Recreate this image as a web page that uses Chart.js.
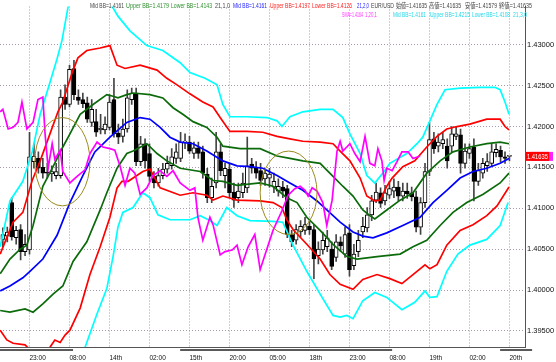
<!DOCTYPE html>
<html><head><meta charset="utf-8">
<script src="https://cdn.jsdelivr.net/npm/chart.js@4.4.1/dist/chart.umd.min.js"></script>
<style>html,body{margin:0;padding:0;background:#fff;}canvas{display:block;}</style>
</head><body>
<canvas id="c" width="556" height="362"></canvas>
<script>
// ---- bar data (EUR/USD), bar index 1..115 ----
const opens  = [1.4062,1.4066,1.4107,1.4064,1.4074,1.4047,1.4049,1.4157,1.4161,1.4150,1.4144,1.4142,1.4140,1.4140,1.4236,1.4227,1.4271,1.4236,1.4233,1.4229,1.4205,1.4206,1.4196,1.4196,1.4199,1.4233,1.4192,1.4188,1.4197,1.4233,1.4241,1.4157,1.4179,1.4167,1.4139,1.4131,1.4140,1.4148,1.4152,1.4161,1.4161,1.4181,1.4181,1.4167,1.4174,1.4169,1.4142,1.4113,1.4131,1.4169,1.4140,1.4148,1.4120,1.4113,1.4119,1.4125,1.4154,1.4149,1.4146,1.4136,1.4137,1.4126,1.4121,1.4126,1.4124,1.4068,1.4061,1.4071,1.4073,1.4078,1.4074,1.4042,1.4049,1.4053,1.4050,1.4040,1.4059,1.4044,1.4070,1.4030,1.4047,1.4071,1.4076,1.4092,1.4110,1.4119,1.4109,1.4116,1.4121,1.4126,1.4115,1.4121,1.4119,1.4114,1.4077,1.4107,1.4145,1.4185,1.4176,1.4179,1.4176,1.4176,1.4188,1.4190,1.4155,1.4167,1.4175,1.4133,1.4143,1.4152,1.4155,1.4168,1.4171,1.4163,1.41635];
const highs  = [1.4076,1.4077,1.4113,1.4078,1.4080,1.4068,1.4193,1.4179,1.4169,1.4161,1.4155,1.4152,1.4155,1.4245,1.4251,1.4275,1.4281,1.4245,1.4241,1.4236,1.4233,1.4221,1.4215,1.4212,1.4239,1.4259,1.4203,1.4209,1.4245,1.4247,1.4247,1.4188,1.4185,1.4179,1.4145,1.4149,1.4155,1.4164,1.4173,1.4179,1.4193,1.4191,1.4188,1.4181,1.4181,1.4176,1.4149,1.4137,1.4193,1.4179,1.4155,1.4155,1.4131,1.4131,1.4143,1.4187,1.4161,1.4157,1.4155,1.4149,1.4149,1.4143,1.4136,1.4133,1.4128,1.4073,1.4080,1.4085,1.4089,1.4085,1.4080,1.4059,1.4071,1.4073,1.4059,1.4068,1.4065,1.4077,1.4080,1.4056,1.4073,1.4089,1.4101,1.4116,1.4131,1.4125,1.4128,1.4133,1.4136,1.4133,1.4131,1.4131,1.4126,1.4121,1.4113,1.4155,1.4205,1.4193,1.4191,1.4193,1.4185,1.4200,1.4200,1.4197,1.4179,1.4179,1.4185,1.4155,1.4161,1.4167,1.4179,1.4179,1.4176,1.4169,1.41635];
const lows   = [1.4053,1.4059,1.4061,1.4056,1.4037,1.4042,1.4044,1.4149,1.4143,1.4137,1.4137,1.4133,1.4136,1.4137,1.4221,1.4224,1.4233,1.4227,1.4223,1.4205,1.4200,1.4188,1.4191,1.4191,1.4196,1.4187,1.4179,1.4181,1.4193,1.4227,1.4152,1.4152,1.4149,1.4133,1.4125,1.4127,1.4136,1.4143,1.4148,1.4155,1.4157,1.4173,1.4167,1.4161,1.4161,1.4137,1.4107,1.4107,1.4125,1.4140,1.4125,1.4113,1.4101,1.4107,1.4113,1.4119,1.4143,1.4137,1.4128,1.4128,1.4126,1.4119,1.4115,1.4113,1.4064,1.4053,1.4056,1.4065,1.4068,1.4068,1.4014,1.4032,1.4044,1.4047,1.4025,1.4035,1.4047,1.4040,1.4017,1.4025,1.4041,1.4064,1.4071,1.4085,1.4107,1.4101,1.4104,1.4112,1.4113,1.4109,1.4109,1.4112,1.4109,1.4071,1.4068,1.4101,1.4140,1.4167,1.4169,1.4173,1.4149,1.4169,1.4184,1.4143,1.4149,1.4161,1.4109,1.4128,1.4137,1.4145,1.4152,1.4163,1.4157,1.4155,1.41579];
const closes = [1.4068,1.4071,1.4065,1.4073,1.4047,1.4056,1.4163,1.4164,1.4149,1.4143,1.4143,1.4145,1.4145,1.4236,1.4227,1.4270,1.4239,1.4232,1.4228,1.4209,1.4221,1.4193,1.4198,1.4203,1.4230,1.4191,1.4187,1.4197,1.4235,1.4241,1.4157,1.4179,1.4158,1.4139,1.4131,1.4140,1.4148,1.4155,1.4163,1.4169,1.4181,1.4182,1.4170,1.4174,1.4167,1.4143,1.4113,1.4127,1.4169,1.4146,1.4149,1.4119,1.4110,1.4121,1.4131,1.4152,1.4149,1.4143,1.4134,1.4143,1.4142,1.4133,1.4127,1.4121,1.4068,1.4059,1.4074,1.4078,1.4080,1.4074,1.4038,1.4050,1.4061,1.4064,1.4029,1.4059,1.4054,1.4068,1.4025,1.4044,1.4061,1.4078,1.4092,1.4109,1.4120,1.4106,1.4119,1.4124,1.4126,1.4115,1.4121,1.4118,1.4114,1.4077,1.4107,1.4145,1.4184,1.4173,1.4181,1.4184,1.4158,1.4191,1.4191,1.4155,1.4170,1.4173,1.4133,1.4146,1.4155,1.4157,1.4169,1.4172,1.4163,1.4161,1.41635];

// ---- indicator lines, [bar index, price] ----
const bbMid = [[0.4,1.3999],[2.6,1.4005],[5.5,1.4015],[7.1,1.4023],[10.0,1.4038],[13.2,1.4067],[16.1,1.4107],[19.0,1.4140],[21.7,1.4169],[25.1,1.4187],[28.9,1.4205],[31.9,1.4211],[34.1,1.4209],[36.4,1.4199],[38.6,1.4187],[40.9,1.4181],[43.8,1.4179],[46.9,1.4170],[50.5,1.4158],[53.7,1.4152],[56.6,1.4151],[59.5,1.4149],[62.7,1.4140],[65.6,1.4131],[68.5,1.4122],[71.7,1.4109],[73.9,1.4098],[76.9,1.4083],[79.8,1.4071],[82.0,1.4066],[84.3,1.4064],[87.4,1.4070],[91.0,1.4079],[94.9,1.4089],[97.8,1.4107],[100.9,1.4122],[103.9,1.4137],[106.8,1.4145],[109.9,1.4149],[112.9,1.4155],[114.9,1.4161]];
const bbUp1 = [[0.4,1.4020],[2.6,1.4038],[4.9,1.4050],[6.4,1.4055],[7.8,1.4079],[10.0,1.4127],[12.3,1.4151],[14.5,1.4175],[16.1,1.4191],[18.4,1.4215],[21.3,1.4227],[24.4,1.4239],[25.8,1.4237],[26.9,1.4235],[28.9,1.4239],[30.3,1.4241],[34.1,1.4239],[37.0,1.4235],[39.3,1.4223],[41.5,1.4215],[43.8,1.4206],[46.9,1.4199],[49.2,1.4187],[50.5,1.4176],[54.4,1.4173],[58.9,1.4173],[62.7,1.4164],[65.6,1.4161],[68.5,1.4158],[72.4,1.4155],[75.3,1.4139],[77.5,1.4127],[79.8,1.4115],[82.0,1.4098],[83.6,1.4091],[84.7,1.4087],[87.4,1.4098],[90.4,1.4110],[93.3,1.4119],[96.4,1.4143],[99.4,1.4158],[102.3,1.4169],[106.1,1.4175],[109.9,1.4179],[112.9,1.4181],[114.9,1.4179]];
const bbLo1 = [[0.4,1.3975],[2.6,1.3973],[6.0,1.3977],[7.8,1.3973],[10.0,1.3983],[12.3,1.3995],[14.5,1.4005],[16.8,1.4035],[19.9,1.4059],[22.9,1.4098],[24.4,1.4119],[26.7,1.4149],[28.9,1.4167],[30.3,1.4170],[33.4,1.4179],[35.7,1.4167],[37.9,1.4158],[40.9,1.4149],[45.4,1.4145],[48.3,1.4134],[50.5,1.4133],[53.7,1.4128],[58.9,1.4131],[61.8,1.4127],[64.9,1.4113],[67.2,1.4107],[69.4,1.4089],[72.4,1.4073],[75.3,1.4056],[78.4,1.4041],[80.7,1.4038],[85.2,1.4041],[90.4,1.4044],[93.3,1.4053],[96.4,1.4061],[99.4,1.4079],[102.3,1.4095],[105.4,1.4107],[109.0,1.4117],[112.9,1.4131],[114.9,1.4143]];
const bbUp2 = [[0.4,1.4044],[1.5,1.4059],[3.3,1.4083],[5.5,1.4095],[7.6,1.4134],[9.4,1.4158],[11.6,1.4191],[13.4,1.4218],[14.5,1.4230],[16.6,1.4266],[17.9,1.4284],[19.9,1.4293],[22.9,1.4296],[25.1,1.4299],[26.7,1.4275],[28.5,1.4271],[31.9,1.4275],[35.7,1.4269],[37.9,1.4259],[40.2,1.4251],[43.1,1.4240],[46.0,1.4230],[48.3,1.4224],[49.9,1.4211],[52.1,1.4194],[55.9,1.4194],[59.5,1.4193],[62.7,1.4188],[65.6,1.4185],[68.5,1.4182],[72.4,1.4181],[75.3,1.4179],[76.9,1.4170],[79.1,1.4158],[81.4,1.4137],[82.9,1.4115],[84.7,1.4109],[85.9,1.4110],[87.4,1.4127],[88.6,1.4137],[91.0,1.4151],[93.7,1.4158],[96.4,1.4175],[98.7,1.4188],[100.9,1.4197],[103.2,1.4200],[106.1,1.4203],[109.9,1.4209],[112.9,1.4209],[114.0,1.4200],[114.9,1.4196]];
const bbLo2 = [[0.4,1.3951],[1.9,1.3939],[3.3,1.3935],[6.0,1.3933],[8.2,1.3921],[10.5,1.3925],[11.6,1.3930],[12.7,1.3939],[13.9,1.3936],[15.0,1.3945],[16.1,1.3951],[18.4,1.3978],[20.6,1.4019],[22.9,1.4053],[25.1,1.4089],[26.7,1.4125],[27.8,1.4133],[29.2,1.4133],[32.5,1.4145],[34.1,1.4148],[36.4,1.4125],[40.9,1.4116],[43.8,1.4119],[46.9,1.4116],[48.3,1.4110],[50.5,1.4115],[53.7,1.4110],[58.9,1.4109],[61.8,1.4107],[63.8,1.4101],[64.9,1.4086],[66.3,1.4074],[69.4,1.4056],[72.4,1.4038],[74.6,1.4019],[76.9,1.4007],[79.8,1.4001],[82.0,1.4013],[85.2,1.4019],[88.1,1.4014],[90.8,1.4008],[93.3,1.4019],[96.0,1.4031],[97.1,1.4026],[98.7,1.4031],[100.9,1.4055],[103.9,1.4073],[106.8,1.4080],[109.9,1.4091],[112.2,1.4103],[114.9,1.4126]];
const bbUp3 = [[0.4,1.4053],[2.6,1.4109],[5.5,1.4133],[7.6,1.4169],[9.4,1.4215],[11.6,1.4254],[13.2,1.4283],[14.3,1.4305],[15.7,1.4347],[17.2,1.4377],[20.6,1.4401],[24.0,1.4377],[25.6,1.4347],[26.9,1.4335],[29.6,1.4317],[33.4,1.4299],[37.0,1.4293],[40.9,1.4278],[43.1,1.4266],[46.5,1.4259],[49.2,1.4251],[50.5,1.4227],[52.1,1.4212],[55.9,1.4212],[60.4,1.4211],[62.7,1.4207],[63.8,1.4200],[65.6,1.4212],[68.5,1.4218],[72.4,1.4221],[75.3,1.4221],[77.5,1.4211],[79.1,1.4191],[81.4,1.4167],[82.9,1.4140],[84.7,1.4131],[86.5,1.4143],[88.1,1.4155],[91.9,1.4167],[94.2,1.4179],[95.5,1.4187],[97.1,1.4207],[98.7,1.4227],[100.5,1.4245],[103.9,1.4247],[108.4,1.4248],[111.7,1.4248],[112.9,1.4245],[114.0,1.4230],[114.9,1.4215]];
const bbLo3 = [[17.2,1.3891],[19.5,1.3930],[22.2,1.3971],[24.4,1.4002],[25.8,1.4041],[26.9,1.4077],[28.0,1.4095],[30.3,1.4101],[32.5,1.4119],[34.1,1.4113],[35.9,1.4092],[38.6,1.4086],[43.1,1.4086],[45.4,1.4091],[47.6,1.4085],[49.2,1.4079],[51.4,1.4101],[53.7,1.4091],[56.6,1.4085],[61.8,1.4084],[64.0,1.4083],[66.3,1.4055],[69.4,1.4023],[72.4,1.3995],[75.3,1.3969],[76.9,1.3967],[78.4,1.3969],[79.8,1.3965],[82.0,1.3987],[84.7,1.3997],[87.4,1.3991],[90.8,1.3976],[93.7,1.3985],[96.0,1.3999],[97.1,1.3991],[98.7,1.3992],[100.9,1.4023],[103.4,1.4044],[106.1,1.4055],[109.9,1.4062],[112.9,1.4079],[114.7,1.4107]];
const smaLine = [[0.4,1.4218],[1.0,1.4221],[2.2,1.4197],[3.3,1.4199],[4.4,1.4205],[5.3,1.4230],[6.4,1.4197],[7.8,1.4205],[8.9,1.4233],[10.0,1.4236],[10.5,1.4191],[11.2,1.4149],[12.1,1.4179],[12.7,1.4160],[13.9,1.4171],[14.5,1.4145],[16.1,1.4131],[17.7,1.4139],[19.5,1.4147],[20.6,1.4167],[22.2,1.4181],[23.5,1.4175],[25.1,1.4173],[26.2,1.4171],[27.4,1.4151],[28.5,1.4128],[29.6,1.4149],[30.7,1.4143],[31.9,1.4117],[33.4,1.4125],[34.8,1.4140],[36.4,1.4146],[37.9,1.4139],[39.3,1.4146],[40.9,1.4131],[43.1,1.4122],[44.2,1.4125],[44.9,1.4089],[46.0,1.4061],[47.6,1.4089],[48.3,1.4080],[49.9,1.4043],[51.0,1.4047],[52.6,1.4049],[53.7,1.4055],[54.8,1.4031],[56.2,1.4053],[57.7,1.4068],[58.9,1.4025],[60.4,1.4050],[61.8,1.4073],[63.8,1.4097],[65.2,1.4116],[66.7,1.4124],[67.9,1.4127],[69.0,1.4122],[69.7,1.4115],[70.6,1.4125],[71.7,1.4121],[73.0,1.4107],[73.9,1.4079],[75.1,1.4110],[76.2,1.4170],[76.9,1.4182],[77.5,1.4170],[78.4,1.4175],[79.1,1.4179],[80.2,1.4167],[81.4,1.4157],[82.5,1.4188],[83.6,1.4155],[84.7,1.4152],[85.4,1.4173],[86.3,1.4158],[86.8,1.4134],[87.4,1.4149],[88.6,1.4146],[89.7,1.4157],[90.8,1.4169],[92.2,1.4169],[93.3,1.4161],[94.9,1.4164]];

// ---- axis ticks ----
const xTickIdx = [7,16,25,34,43,52,61,70,79,88,97,106,115];
const xTickLabels = ["23:00","08:00","14th","02:00","15th","20:00","05:00","18th","23:00","08:00","19th","02:00","20th"];
const yTickValues = [1.395,1.400,1.405,1.410,1.415,1.420,1.425,1.430];

// ---- annotations ----
const ellipses = [{x:14.4,y:1.4157,rx:6.2,ry:0.0054},{x:65.3,y:1.4119,rx:6.4,ry:0.0051}];
const sepRanges = [[0.36,16.8],[40.9,88.6],[112.9,120.1]];
const headerRow1 = [["Mid BB=1.4161","#444",90,34],["Upper BB=1.4179","#2f8f2f",126,43],["Lower BB=1.4143","#2f8f2f",171,41],["21,1,0","#444",215,15],["Mid BB=1.4161","#2222ff",233,34],["Upper BB=1.4197","#ff2020",270,40],["Lower BB=1.4126","#ff2020",312,40],["21,2,0","#2222ff",357,12],["EUR/USD","#444",371,23],["始値=1.41635","#444",396,31],["高値=1.41635","#444",429,32],["安値=1.41579","#444",465,32],["終値=1.41635","#444",499,33]];
const headerRow2 = [["SMA=1.4164","#ff33ff",342,21],["1,20,1","#ff33ff",365,12],["Mid BB=1.4161","#22d8e8",393,33],["Upper BB=1.4215","#22d8e8",430,40],["Lower BB=1.4108","#22d8e8",472,38],["21,3,0","#22d8e8",513,14]];

const FONT = '"Liberation Sans Narrow","Liberation Sans","Noto Sans CJK JP",sans-serif';
const toPts = arr => arr.map(p => ({x: p[0], y: p[1]}));
const idx = opens.map((_, i) => i + 1);

const overlay = {
  id: 'overlay',
  afterDatasetsDraw(chart) {
    const {ctx, chartArea: a, scales: {x, y}} = chart;
    ctx.save();
    ctx.beginPath(); ctx.rect(a.left, a.top, a.right - a.left, a.bottom - a.top); ctx.clip();
    ctx.strokeStyle = '#9c8a1e'; ctx.lineWidth = 1;
    ellipses.forEach(e => {
      const cx = x.getPixelForValue(e.x), cy = y.getPixelForValue(e.y);
      const rx = Math.abs(x.getPixelForValue(e.x + e.rx) - cx);
      const ry = Math.abs(y.getPixelForValue(e.y + e.ry) - cy);
      ctx.beginPath(); ctx.ellipse(cx, cy, rx, ry, 0, 0, Math.PI * 2); ctx.stroke();
    });
    ctx.restore();
  },
  afterDraw(chart) {
    const {ctx, chartArea: a, scales: {x, y}} = chart;
    ctx.save();
    ctx.fillStyle = '#5a5a5a';
    sepRanges.forEach(([s, e]) => {
      const x0 = x.getPixelForValue(s), x1 = x.getPixelForValue(e);
      ctx.fillRect(x0, a.bottom + 2, x1 - x0, 2);
    });
    const last = closes[closes.length - 1];
    const py = y.getPixelForValue(last);
    ctx.fillStyle = '#ff22ff'; ctx.fillRect(a.right + 6, py - 4.5, 22, 9);
    ctx.fillStyle = '#ff0000'; ctx.fillRect(a.right + 1, py - 4.5, 23, 9);
    ctx.fillStyle = '#ffffff'; ctx.font = '7.5px ' + FONT; ctx.textBaseline = 'middle'; ctx.textAlign = 'left';
    ctx.fillText(last.toFixed(5), a.right + 2, py + 0.5, 21);
    ctx.font = '6.5px ' + FONT;
    headerRow1.forEach(([t, c, px, w]) => { ctx.fillStyle = c; ctx.fillText(t, px, 6.5, w); });
    headerRow2.forEach(([t, c, px, w]) => { ctx.fillStyle = c; ctx.fillText(t, px, 15.5, w); });
    ctx.restore();
  }
};

const lineDs = (label, pts, color) => ({
  type: 'line', label, data: toPts(pts), borderColor: color, borderWidth: 1.7,
  pointRadius: 0, tension: 0, fill: false, order: 1
});

new Chart(document.getElementById('c'), {
  type: 'line',
  data: {
    datasets: [
      lineDs('SMA 1,20,1', smaLine, '#ff00ff'),
      lineDs('Mid BB', bbMid, '#0000ff'),
      lineDs('Upper BB 1', bbUp1, '#0b6b0b'),
      lineDs('Lower BB 1', bbLo1, '#0b6b0b'),
      lineDs('Upper BB 2', bbUp2, '#ff0000'),
      lineDs('Lower BB 2', bbLo2, '#ff0000'),
      lineDs('Upper BB 3', bbUp3, '#00ffff'),
      lineDs('Lower BB 3', bbLo3, '#00ffff'),
      {
        type: 'bar', label: 'body', order: 2, grouped: false,
        data: idx.map((j, i) => ({x: j, y: [opens[i], closes[i]]})),
        backgroundColor: idx.map((j, i) => closes[i] >= opens[i] ? '#ffffff' : '#000000'),
        borderColor: '#000000', borderWidth: 1, borderSkipped: false,
        barPercentage: 1, categoryPercentage: 1, maxBarThickness: 4, minBarLength: 1
      },
      {
        type: 'bar', label: 'wick', order: 3, grouped: false,
        data: idx.map((j, i) => ({x: j, y: [lows[i], highs[i]]})),
        backgroundColor: '#444444', borderWidth: 0,
        barPercentage: 1, categoryPercentage: 1, maxBarThickness: 1
      }
    ]
  },
  options: {
    responsive: false, animation: false, events: [],
    layout: {padding: 0},
    plugins: {legend: {display: false}, tooltip: {enabled: false}, title: {display: false}},
    scales: {
      x: {
        type: 'linear', min: 0.36, max: 118.5, offset: false,
        afterBuildTicks: s => { s.ticks = xTickIdx.map(v => ({value: v})); },
        afterFit: s => { s.height = 15; },
        ticks: {
          autoSkip: false, maxRotation: 0, align: 'start', padding: 7,
          color: '#111', font: {family: FONT, size: 6.5},
          callback: (v, i) => xTickLabels[i]
        },
        grid: {color: '#a898ac', lineWidth: 1, drawTicks: false, offset: false},
        border: {display: true, color: '#555', width: 1, dash: [1, 2]}
      },
      y: {
        type: 'linear', position: 'right', min: 1.39304, max: 1.43468,
        afterBuildTicks: s => { s.ticks = yTickValues.map(v => ({value: v})); },
        afterFit: s => { s.width = 31; },
        ticks: {
          padding: 2, color: '#111', font: {family: FONT, size: 7.5},
          callback: v => Number(v).toFixed(5)
        },
        grid: {color: '#a898ac', lineWidth: 1, drawTicks: false},
        border: {display: true, color: '#555', width: 1, dash: [1, 2]}
      }
    }
  },
  plugins: [overlay]
});
</script>
</body></html>
